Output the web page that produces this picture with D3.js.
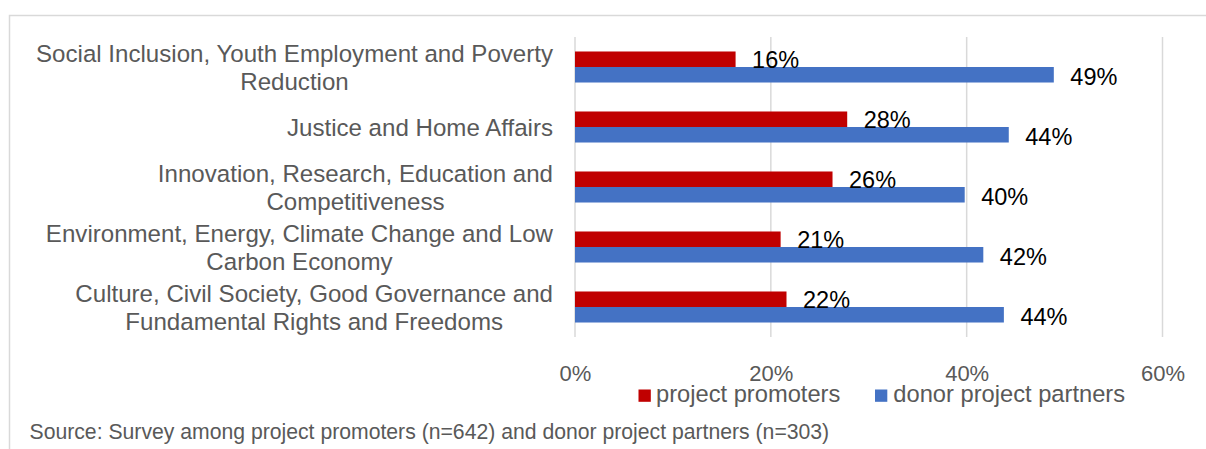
<!DOCTYPE html>
<html>
<head>
<meta charset="utf-8">
<script src="https://cdn.jsdelivr.net/npm/d3@7"></script>
<style>
  html, body { margin: 0; padding: 0; background: #ffffff; }
  svg { display: block; font-family: "Liberation Sans", Arial, sans-serif; }
</style>
</head>
<body>
<svg id="chart" width="1206" height="449"></svg>
<script>
// Thematic areas, top to bottom
const categories = [
  "Social Inclusion, Youth Employment and Poverty Reduction",
  "Justice and Home Affairs",
  "Innovation, Research, Education and Competitiveness",
  "Environment, Energy, Climate Change and Low Carbon Economy",
  "Culture, Civil Society, Good Governance and Fundamental Rights and Freedoms"
];
// Wrapped label lines for each category
const categoryLines = [
  ["Social Inclusion, Youth Employment and Poverty", "Reduction"],
  ["Justice and Home Affairs"],
  ["Innovation, Research, Education and", "Competitiveness"],
  ["Environment, Energy, Climate Change and Low", "Carbon Economy"],
  ["Culture, Civil Society, Good Governance and", "Fundamental Rights and Freedoms"]
];
const seriesNames = ["project promoters", "donor project partners"];
const promoters = [0.164, 0.278, 0.263, 0.210, 0.216];
const donorPartners = [0.489, 0.443, 0.398, 0.417, 0.438];
const tickValues = [0, 0.2, 0.4, 0.6];
const sourceNote = "Source: Survey among project promoters (n=642) and donor project partners (n=303)";

const colors = { promoters: "#C00000", donorPartners: "#4472C4" };
const textGrey = "#595959";
const gridGrey = "#D9D9D9";

const svg = d3.select("#chart");

// Outer frame (top and left edges visible)
svg.append("rect")
  .attr("x", 9.5).attr("y", 15.5)
  .attr("width", 1220).attr("height", 460)
  .attr("fill", "none")
  .attr("stroke", gridGrey).attr("stroke-width", 1.5);

const x = d3.scaleLinear().domain([0, 0.6]).range([575, 1162.5]);
const y = d3.scaleBand().domain(categories).range([37, 337])
  .paddingInner(0.483).paddingOuter(0.2415);
const ySub = d3.scaleBand().domain(seriesNames).range([0, y.bandwidth()]);

// Vertical gridlines
svg.append("g")
  .selectAll("line")
  .data(tickValues)
  .join("line")
  .attr("x1", d => x(d)).attr("x2", d => x(d))
  .attr("y1", 37).attr("y2", 337)
  .attr("stroke", gridGrey).attr("stroke-width", 1.5);

// Tick labels
const xAxis = d3.axisBottom(x).tickValues(tickValues).tickFormat(d3.format(".0%")).tickSize(0);
const axisG = svg.append("g").attr("transform", "translate(0,337)").call(xAxis);
axisG.select(".domain").remove();
axisG.selectAll("text")
  .attr("y", 43.5).attr("dy", null)
  .attr("fill", textGrey)
  .style("font-size", "22px")
  .style("font-family", "'Liberation Sans', Arial, sans-serif");

// Bars
const rows = categories.map((c, i) => ({ cat: c, vals: [promoters[i], donorPartners[i]] }));
const seriesColor = [colors.promoters, colors.donorPartners];
const fmt = d3.format(".0%");

const groups = svg.append("g").selectAll("g")
  .data(rows).join("g")
  .attr("transform", d => `translate(0,${y(d.cat)})`);

groups.selectAll("rect")
  .data(d => d.vals.map((v, k) => ({ v, k })))
  .join("rect")
  .attr("x", x(0))
  .attr("y", d => ySub(seriesNames[d.k]))
  .attr("width", d => x(d.v) - x(0))
  .attr("height", ySub.bandwidth())
  .attr("fill", d => seriesColor[d.k]);

groups.selectAll("text")
  .data(d => d.vals.map((v, k) => ({ v, k })))
  .join("text")
  .attr("x", d => x(d.v) + 16.5)
  .attr("y", d => ySub(seriesNames[d.k]) + ySub.bandwidth() / 2 + (d.k === 1 ? 1.5 : 0))
  .attr("dy", "0.36em")
  .attr("fill", "#000000")
  .style("font-size", "23.5px")
  .text(d => fmt(d.v));

// Category labels: each block right-aligned to the axis, lines centred in the block
const labelRight = 553;
const lineHeight = 28.5;
const catG = svg.append("g");
categories.forEach((c, i) => {
  const lines = categoryLines[i];
  const cy = y(c) + y.bandwidth() / 2;
  const t = catG.append("text")
    .attr("fill", textGrey)
    .style("font-size", "24.1px")
    .attr("text-anchor", "middle");
  const spans = lines.map((ln, j) =>
    t.append("tspan")
      .attr("y", cy + (j - (lines.length - 1) / 2) * lineHeight)
      .attr("dy", "0.38em")
      .text(ln));
  const maxW = d3.max(spans, s => s.node().getComputedTextLength());
  spans.forEach(s => s.attr("x", labelRight - maxW / 2));
});

// Legend
const legendItems = [
  { name: seriesNames[0], color: colors.promoters, x: 638.5, tx: 656 },
  { name: seriesNames[1], color: colors.donorPartners, x: 875, tx: 893.3 }
];
const legend = svg.append("g");
legendItems.forEach(it => {
  legend.append("rect")
    .attr("x", it.x).attr("y", 389.5)
    .attr("width", 12.3).attr("height", 12.3)
    .attr("fill", it.color);
  legend.append("text")
    .attr("x", it.tx).attr("y", 401.7)
    .attr("fill", textGrey)
    .style("font-size", "23.7px")
    .text(it.name);
});

// Source note
svg.append("text")
  .attr("x", 29.5).attr("y", 439.3)
  .attr("fill", textGrey)
  .style("font-size", "21.2px")
  .text(sourceNote);
</script>
</body>
</html>
